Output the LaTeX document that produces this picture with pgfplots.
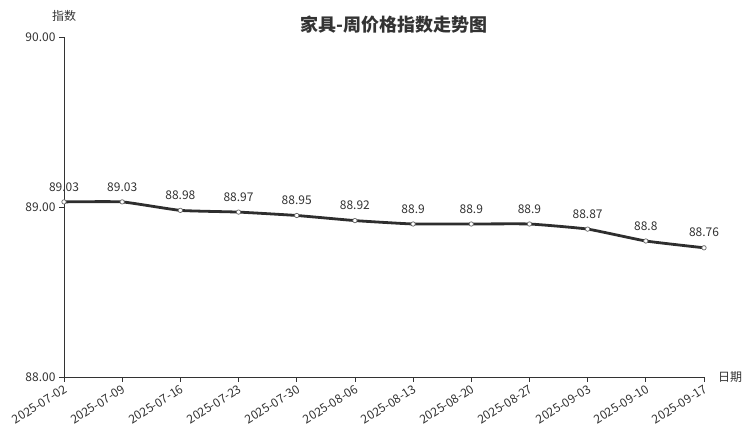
\documentclass[border=0pt]{standalone}
\usepackage{pgfplots}
\pgfplotsset{compat=1.18}
\usepackage{fontspec}
\setmainfont{Noto Sans CJK SC}
\definecolor{txt}{HTML}{333333}
\definecolor{linec}{HTML}{2E2E2E}
\begin{document}
\begin{tikzpicture}[x=1pt,y=1pt]
\useasboundingbox (0,0) rectangle (752,427);
\begin{axis}[
    at={(64pt,50pt)}, anchor=south west,
    scale only axis,
    width=640pt, height=340pt,
    xmin=0, xmax=11,
    ymin=88, ymax=90,
    axis x line*=bottom, axis y line*=left,
    axis line style={txt, line width=0.9pt, -},
    xtick={0,...,11},
    xticklabels={2025-07-02,2025-07-09,2025-07-16,2025-07-23,2025-07-30,2025-08-06,2025-08-13,2025-08-20,2025-08-27,2025-09-03,2025-09-10,2025-09-17},
    x tick label style={rotate=32, anchor=north east, font=\fontsize{12}{13}\selectfont, text=txt, inner sep=1.5pt},
    ytick={88,89,90},
    yticklabel style={font=\fontsize{12}{13}\selectfont, text=txt},
    /pgf/number format/assume math mode=true,
    yticklabel={\pgfmathprintnumber[fixed, fixed zerofill, precision=2]{\tick}},
    tick style={txt, line width=0.8pt},
    tick align=outside,
    major tick length=5pt,
    clip=false,
    nodes near coords,
    point meta=explicit symbolic,
    every node near coord/.append style={font=\fontsize{12}{13}\selectfont, text=txt, yshift=7pt},
]
\addplot[linec, line width=2.8pt, smooth, tension=0.25,
    mark=*, mark size=2.2pt, mark options={fill=white, draw=gray!80!black, line width=0.7pt}]
    coordinates {
    (0,89.03) [89.03]
    (1,89.03) [89.03]
    (2,88.98) [88.98]
    (3,88.97) [88.97]
    (4,88.95) [88.95]
    (5,88.92) [88.92]
    (6,88.90) [88.9]
    (7,88.90) [88.9]
    (8,88.90) [88.9]
    (9,88.87) [88.87]
    (10,88.80) [88.8]
    (11,88.76) [88.76]
    };
\end{axis}
\node[font=\fontsize{18}{20}\selectfont\bfseries, text=txt] at (394,402) {家具-周价格指数走势图};
\node[font=\fontsize{12}{14}\selectfont, text=txt] at (64,411) {指数};
\node[font=\fontsize{12}{14}\selectfont, text=txt] at (730,50) {日期};
\end{tikzpicture}
\end{document}
